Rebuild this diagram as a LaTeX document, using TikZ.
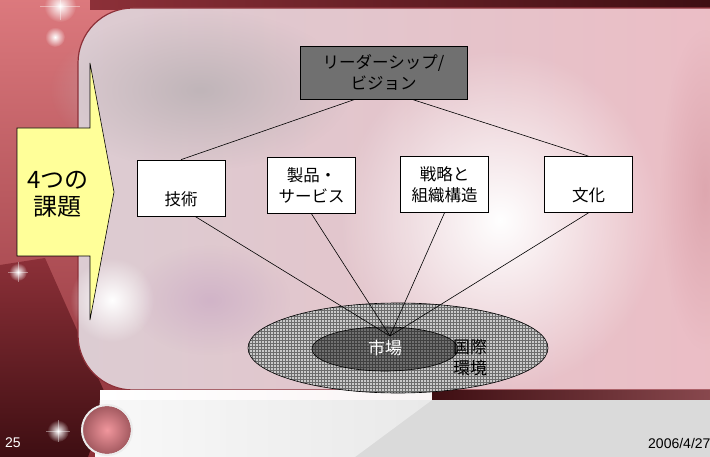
\documentclass[tikz,border=0pt]{standalone}
\usepackage{fontspec}
\setmainfont{Noto Sans CJK JP}
\newfontfamily\numfont{Liberation Sans}
\usetikzlibrary{calc,patterns,fadings}

\definecolor{slidered}{HTML}{D04C52}
\definecolor{darkwine}{HTML}{3E0E12}
\definecolor{wine}{HTML}{8C3038}
\definecolor{panelpink}{HTML}{DCCCD2}
\definecolor{panelrose}{HTML}{EDBCC4}
\definecolor{blush}{HTML}{FAF4F5}
\definecolor{calloutyellow}{HTML}{FFFF99}
\definecolor{leadgray}{HTML}{707070}
\definecolor{marketgray}{HTML}{707070}
\definecolor{worldgray}{HTML}{CACACA}
\definecolor{footgray}{HTML}{DADADA}

\tikzfading[name=glow, inner color=transparent!0, outer color=transparent!100]

\tikzset{
	box/.style={draw=black, line width=0.7pt, fill=white, minimum width=88pt,
		minimum height=56pt, align=center, inner sep=2pt,
		font=\fontsize{16.5}{21}\selectfont},
	leadbox/.style={box, fill=leadgray, minimum width=167pt, minimum height=53pt},
	link/.style={draw=black, line width=0.6pt},
	glint/.style={fill=white, path fading=glow},
}

\begin{document}
\begin{tikzpicture}[x=1pt, y=-1pt]
	\useasboundingbox (0,0) rectangle (710,457);

	% slide background
	\begin{scope}
		\clip (0,0) rectangle (710,457);
		\shade[top color=slidered!75!white, bottom color=wine] (0,0) rectangle (710,457);
		\shade[left color=wine, right color=darkwine] (90,0) rectangle (710,10);
		\shade[top color=wine, bottom color=darkwine] (0,265) -- (45,258) -- (108,400) -- (88,457) -- (0,457) -- cycle;

		% rounded panel
		\shade[rounded corners=55pt, left color=panelpink, middle color=blush, right color=panelrose]
			(780,8) -- (78,8) -- (78,390) -- (780,390) -- cycle;
		\fill[gray!30!panelpink, path fading=glow] (200,90) ellipse (150 and 80);
		\fill[violet!12!panelpink, path fading=glow] (210,300) ellipse (80 and 55);
		\fill[white, path fading=glow] (500,220) ellipse (160 and 170);
		\fill[panelrose!85!wine, path fading=glow] (705,190) ellipse (45 and 160);
		\draw[wine, line width=1.2pt, rounded corners=55pt]
			(780,8) -- (78,8) -- (78,390) -- (780,390);

		% footer
		\shade[left color=white, right color=blush] (100,390) rectangle (432,400);
		\shade[left color=darkwine, right color=wine!70!gray] (432,390) rectangle (710,400);
		\fill[footgray] (100,400) rectangle (710,457);
		\shade[left color=white!95!gray, right color=footgray!60!white] (100,400) -- (432,400) -- (355,457) -- (95,457) -- cycle;

		% ball
		\shade[inner color=panelrose!80!red, outer color=wine!80] (107,430) circle (24);
		\draw[white!85!gray, line width=2pt] (107,430) circle (25);

		% sparkles
		\fill[glint] (60,6) circle (16);
		\fill[glint] (55,37) circle (10);
		\fill[glint] (18,272) circle (9);
		\fill[glint] (58,431) circle (11);
		\fill[glint] (112,300) circle (42);
		\draw[white, line width=0.4pt, opacity=0.4] (40,6) -- (80,6) (60,-6) -- (60,20)
			(8,272) -- (28,272) (18,262) -- (18,282) (46,431) -- (70,431) (58,420) -- (58,442);
	\end{scope}

	% callout
	\draw[fill=calloutyellow, line width=0.6pt] (17,128) -- (90,128) -- (90,63) -- (114,192)
		-- (90,320) -- (90,256) -- (17,256) -- cycle;
	\node[align=center, font=\fontsize{24}{27}\selectfont] (issues) at (58,194) {4つの\\課題};

	% market circles
	\fill[worldgray] (398,348) ellipse (150 and 45);
	\path[pattern=grid, pattern color=gray!85!black] (398,348) ellipse (150 and 45);
	\draw[line width=0.6pt] (398,348) ellipse (150 and 45);
	\fill[marketgray] (385,349) ellipse (73 and 22);
	\path[pattern=grid, pattern color=gray!50!black] (385,349) ellipse (73 and 22);
	\draw[line width=0.6pt] (385,349) ellipse (73 and 22);
	\node[text=white, font=\fontsize{17}{20}\selectfont] (market) at (385,348) {市場};
	\node[align=center, font=\fontsize{17}{21}\selectfont] (world) at (470,358) {国際\\環境};

	% boxes
	\node[leadbox] (lead) at (383.5,72.5) {リーダーシップ/\\ビジョン};
	\node[box] (tech) at (181,188) {\strut\\技術};
	\node[box] (prod) at (311.5,185.5) {製品・\\サービス};
	\node[box] (strat) at (444.5,184.5) {戦略と\\組織構造};
	\node[box] (cult) at (588.5,184.5) {\strut\\文化};

	% connectors
	\coordinate (hub) at (390,336);
	\draw[link] ($(lead.south west)!.33!(lead.south east)$) -- (tech.north);
	\draw[link] ($(lead.south west)!.67!(lead.south east)$) -- (cult.north);
	\draw[link] ($(tech.south)+(14,0)$) -- (hub);
	\foreach \n in {prod,strat,cult}
		\draw[link] (\n.south) -- (hub);

	% page number and date
	\node[text=white, font=\numfont\fontsize{14}{16}\selectfont, anchor=west, inner sep=0pt] (page) at (5,443) {25};
	\node[font=\numfont\fontsize{14}{16}\selectfont, anchor=west, inner sep=0pt] (date) at (648,443) {2006/4/27};
\end{tikzpicture}
\end{document}
